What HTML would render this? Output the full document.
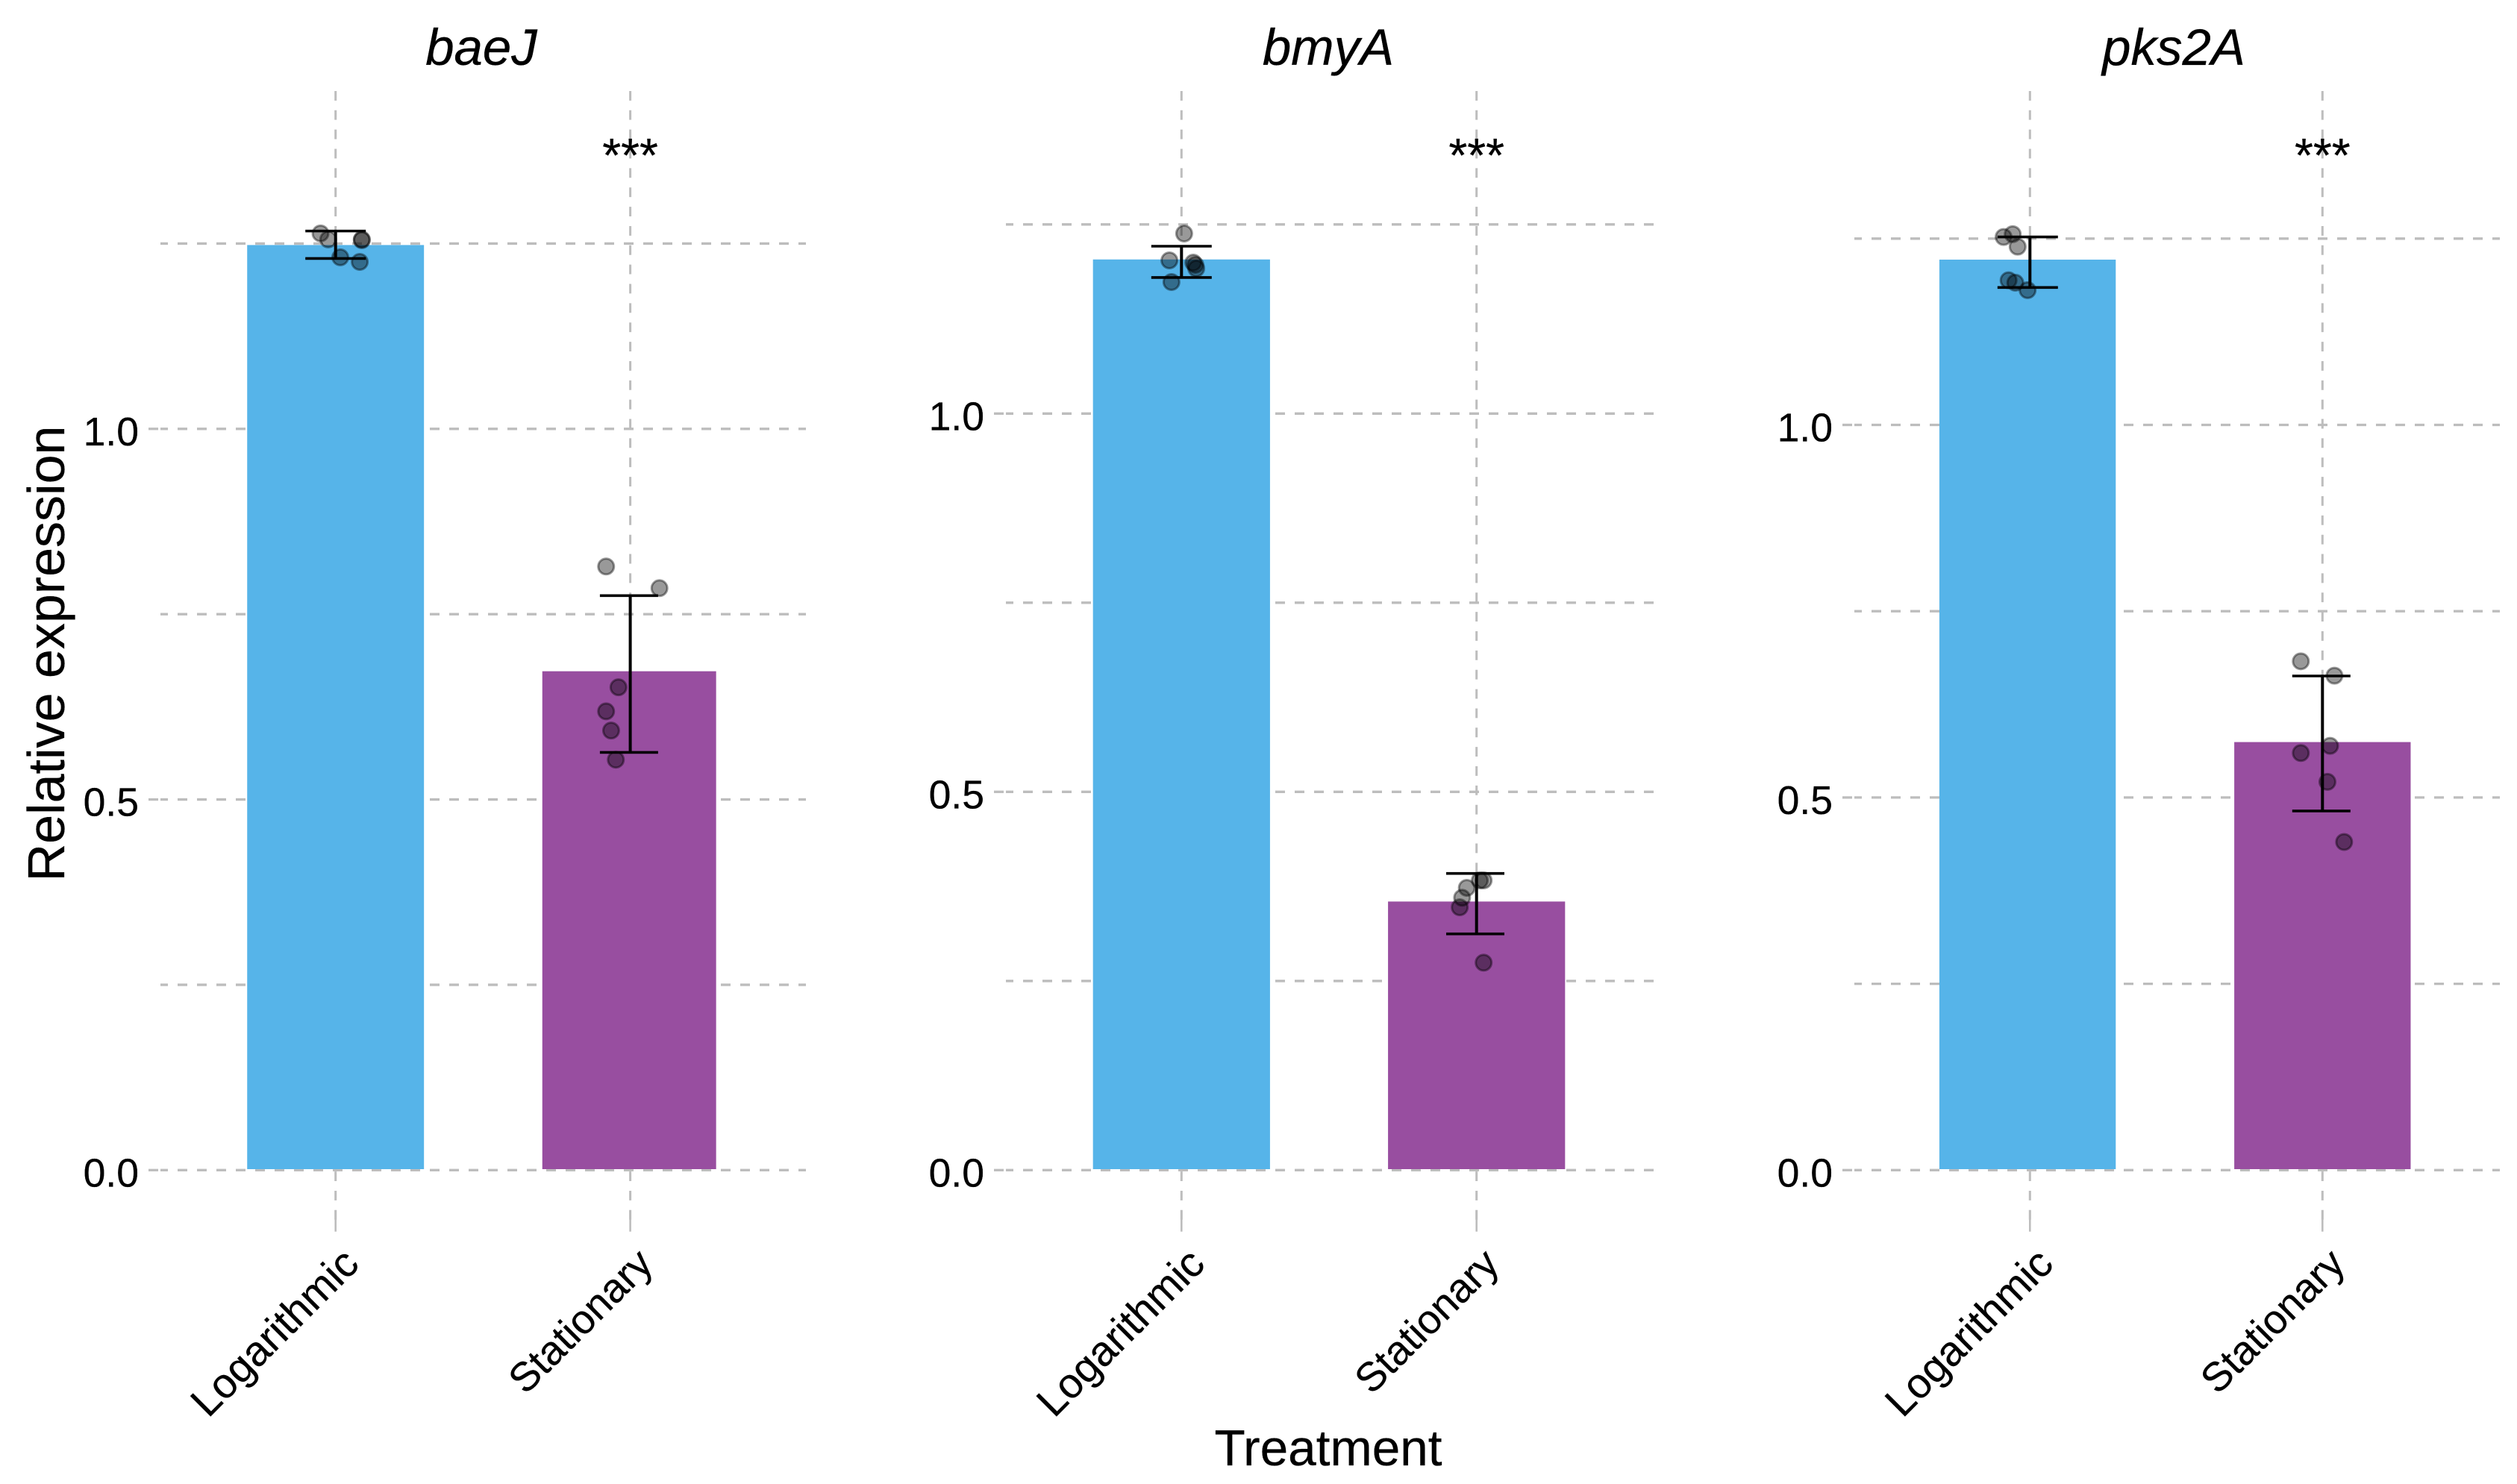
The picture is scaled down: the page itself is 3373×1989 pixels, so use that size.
<!DOCTYPE html>
<html lang="en">
<head>
<meta charset="utf-8">
<title>Relative expression by treatment</title>
<style>
html,body{margin:0;padding:0;background:#fff;}
svg{display:block;}
text{font-family:"Liberation Sans",Arial,sans-serif;fill:#000;stroke:#000;stroke-width:0.3;}
</style>
</head>
<body>
<svg id="chart" xmlns="http://www.w3.org/2000/svg" width="3373" height="1989" viewBox="0 0 3373 1989">
  <rect x="0" y="0" width="3373" height="1989" fill="#ffffff"/>
  <g id="marks"></g>
  <text x="645" y="87" font-size="69" font-style="italic" text-anchor="middle">baeJ</text>
  <text x="1780" y="87" font-size="69" font-style="italic" text-anchor="middle">bmyA</text>
  <text x="2913" y="87" font-size="69" font-style="italic" text-anchor="middle">pks2A</text>
  <text x="844.6" y="230" font-size="64" text-anchor="middle">***</text>
  <text x="1978.7" y="230" font-size="64" text-anchor="middle">***</text>
  <text x="3112.3" y="230" font-size="64" text-anchor="middle">***</text>
  <text transform="translate(86,876) rotate(-90)" font-size="70" text-anchor="middle">Relative expression</text>
  <text x="1780" y="1964" font-size="67.5" text-anchor="middle">Treatment</text>
</svg>
<script>
const categories = ['Logarithmic', 'Stationary'];
const majorTicks = [0, 0.5, 1];
const majorTickLabels = ['0.0', '0.5', '1.0'];
const minorTicks = [0.25, 0.75, 1.25];

const baeJMeans = [1.248, 0.673];
const baeJErrorHigh = [1.2669, 0.775];
const baeJErrorLow = [1.2299, 0.5635];
const baeJLogPointsY = [1.2637, 1.2556, 1.2556, 1.2546, 1.2314, 1.2253];
const baeJLogPointsJitter = [-0.051, -0.025, 0.089, 0.089, 0.016, 0.082];
const baeJStatPointsY = [0.8143, 0.7851, 0.6514, 0.6189, 0.593, 0.5537];
const baeJStatPointsJitter = [-0.082, 0.099, -0.04, -0.082, -0.065, -0.049];

const bmyAMeans = [1.2037, 0.355];
const bmyAErrorHigh = [1.2212, 0.3921];
const bmyAErrorLow = [1.1798, 0.3122];
const bmyALogPointsY = [1.238, 1.2025, 1.1995, 1.1966, 1.1917, 1.1739];
const bmyALogPointsJitter = [0.009, -0.041, 0.04, 0.047, 0.05, -0.034];
const bmyAStatPointsY = [0.3829, 0.3829, 0.3731, 0.36, 0.3474, 0.2742];
const bmyAStatPointsJitter = [0.011, 0.024, -0.033, -0.049, -0.057, 0.024];

const pks2AMeans = [1.2218, 0.5744];
const pks2AErrorHigh = [1.2522, 0.6631];
const pks2AErrorLow = [1.1844, 0.4819];
const pks2ALogPointsY = [1.2522, 1.2559, 1.2392, 1.1941, 1.1908, 1.1808];
const pks2ALogPointsJitter = [-0.09, -0.059, -0.042, -0.073, -0.05, -0.008];
const pks2AStatPointsY = [0.6828, 0.6635, 0.5694, 0.5597, 0.521, 0.4403];
const pks2AStatPointsJitter = [-0.074, 0.041, 0.026, -0.074, 0.017, 0.074];

const barColors = ['#56B4E9', '#984EA0'];

const panels = [
  {gene: 'baeJ', left: 199, right: 1080, catStart: 449.7, catStep: 394.9, yZero: 1568.3, yStep: 993.5, barShift: [0, -1.4], barScale: [1, 0.983], capShift: [0, -1.7],
   means: baeJMeans, hi: baeJErrorHigh, lo: baeJErrorLow,
   py: [baeJLogPointsY, baeJStatPointsY], pj: [baeJLogPointsJitter, baeJStatPointsJitter]},
  {gene: 'bmyA', left: 1332, right: 2217, catStart: 1583.3, catStep: 395.4, yZero: 1568.3, yStep: 1014, barShift: [0, 0], barScale: [1, 1], capShift: [0, -1.7],
   means: bmyAMeans, hi: bmyAErrorHigh, lo: bmyAErrorLow,
   py: [bmyALogPointsY, bmyAStatPointsY], pj: [bmyALogPointsJitter, bmyAStatPointsJitter]},
  {gene: 'pks2A', left: 2469, right: 3350, catStart: 2720.3, catStep: 392, yZero: 1568.3, yStep: 998.8, barShift: [-3.2, 0], barScale: [1.005, 1.005], capShift: [-3, -1.5],
   means: pks2AMeans, hi: pks2AErrorHigh, lo: pks2AErrorLow,
   py: [pks2ALogPointsY, pks2AStatPointsY], pj: [pks2ALogPointsJitter, pks2AStatPointsJitter]}
];

const capHalfWidth = [40.5, 39];
const xLabelSize = [56, 54.5];
const xLabelShift = [34, 33];

const SVG_NS = 'http://www.w3.org/2000/svg';
const marks = document.getElementById('marks');

function make(tag, attrs, parent) {
  const el = document.createElementNS(SVG_NS, tag);
  Object.keys(attrs).forEach(function (k) { el.setAttribute(k, attrs[k]); });
  parent.appendChild(el);
  return el;
}

panels.forEach(function (p) {
  const xScale = function (v) { return p.catStart + v * p.catStep; };
  const yScale = function (v) { return p.yZero - v * p.yStep; };

  const group = make('g', {}, marks);
  
  

  majorTicks.concat(minorTicks).forEach(function (t) {
    const grid = make('line', {x1: p.left + 16, x2: p.right, y1: yScale(t), y2: yScale(t), stroke: '#bdbdbd', 'stroke-width': 3.3, 'stroke-dasharray': '13 13', 'stroke-dashoffset': 3}, group);
    
    
  });

  majorTicks.forEach(function (t, i) {
    const stub = make('line', {x1: p.left, x2: p.left + 13, y1: yScale(t), y2: yScale(t), stroke: '#bdbdbd', 'stroke-width': 3.3}, group);
    
    
    const label = make('text', {x: p.left - 13, y: yScale(t) + 22, 'font-size': 53.5, 'text-anchor': 'end'}, group);
    label.textContent = majorTickLabels[i];
    
    
  });

  categories.forEach(function (c, i) {
    const x = xScale(i);
    const vgrid = make('line', {x1: x, x2: x, y1: 1634.7, y2: 122, stroke: '#bdbdbd', 'stroke-width': 3, 'stroke-dasharray': '12.9 12.96'}, group);
    
    
    const tick = make('line', {x1: x, x2: x, y1: 1622.5, y2: 1650.7, stroke: '#bdbdbd', 'stroke-width': 2.6}, group);
    
    
  });

  categories.forEach(function (c, i) {
    const x = xScale(i);
    const halfWidth = 0.3 * p.catStep * p.barScale[i];
    const top = yScale(p.means[i]);
    const bar = make('rect', {x: x + p.barShift[i] - halfWidth, y: top, width: 2 * halfWidth, height: yScale(0) - 1.3 - top, fill: barColors[i]}, group);
    
    

    p.py[i].forEach(function (v, k) {
      const pt = make('circle', {cx: xScale(i + p.pj[i][k]), cy: yScale(v), r: 10.5, fill: '#000', 'fill-opacity': 0.4, stroke: '#000', 'stroke-opacity': 0.4, 'stroke-width': 3}, group);
      
      
    });

    const yHi = yScale(p.hi[i]);
    const yLo = yScale(p.lo[i]);
    const capX = x + p.capShift[i];
    const capW = capHalfWidth[i];
    const err = make('g', {stroke: '#000', fill: 'none'}, group);
    
    
    make('line', {x1: x, x2: x, y1: yHi, y2: yLo, 'stroke-width': 4}, err);
    make('line', {x1: capX - capW, x2: capX + capW, y1: yHi, y2: yHi, 'stroke-width': 3.6}, err);
    make('line', {x1: capX - capW, x2: capX + capW, y1: yLo, y2: yLo, 'stroke-width': 3.6}, err);

    const lx = x + xLabelShift[i];
    const ly = 1697;
    const xl = make('text', {transform: 'translate(' + lx + ',' + ly + ') rotate(-45)', 'font-size': xLabelSize[i], 'text-anchor': 'end'}, group);
    xl.textContent = c;
    
    
  });
});
</script>
</body>
</html>
